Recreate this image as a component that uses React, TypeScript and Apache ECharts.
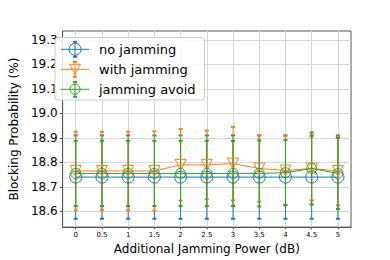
import React, { useEffect, useRef } from "react";
import * as echarts from "echarts";

const xValues = [0, 0.5, 1, 1.5, 2, 2.5, 3, 3.5, 4, 4.5, 5];
const xTicks = [0, 0.5, 1, 1.5, 2, 2.5, 3, 3.5, 4, 4.5, 5];
const yTicks = [18.6, 18.7, 18.8, 18.9, 19.0, 19.1, 19.2, 19.3];

const noJamming = [18.74, 18.74, 18.74, 18.74, 18.74, 18.74, 18.74, 18.74, 18.74, 18.74, 18.74];
const noJammingErr = [0.17, 0.17, 0.17, 0.17, 0.17, 0.17, 0.17, 0.17, 0.17, 0.17, 0.17];

const withJamming = [18.765, 18.765, 18.765, 18.765, 18.79, 18.79, 18.795, 18.775, 18.767, 18.775, 18.765];
const withJammingErr = [0.16, 0.16, 0.16, 0.162, 0.146, 0.14, 0.15, 0.135, 0.14, 0.13, 0.14];

const jammingAvoid = [18.755, 18.755, 18.755, 18.755, 18.755, 18.755, 18.755, 18.755, 18.758, 18.775, 18.755];
const jammingAvoidErr = [0.133, 0.133, 0.133, 0.133, 0.133, 0.133, 0.133, 0.135, 0.133, 0.147, 0.145];

const seriesNames = ["no jamming", "with jamming", "jamming avoid"];
const colors = ["#1f77b4", "#ff7f0e", "#2ca02c"];

const FONT = "DejaVu Sans";

function errorSeries(values: number[], errs: number[], color: string) {
  return {
    type: "custom",
    silent: true,
    data: values.map((v, i) => [xValues[i], v, errs[i]]),
    encode: { x: 0, y: 1 },
    renderItem: (params: any, api: any) => {
      const x = api.value(0);
      const y = api.value(1);
      const e = api.value(2);
      const top = api.coord([x, y + e]);
      const bot = api.coord([x, y - e]);
      const cw = 2;
      return {
        type: "group",
        children: [
          { type: "line", shape: { x1: top[0], y1: top[1], x2: bot[0], y2: bot[1] }, style: { stroke: color, lineWidth: 1 } },
          { type: "line", shape: { x1: top[0] - cw, y1: top[1], x2: top[0] + cw, y2: top[1] }, style: { stroke: color, lineWidth: 2 } },
          { type: "line", shape: { x1: bot[0] - cw, y1: bot[1], x2: bot[0] + cw, y2: bot[1] }, style: { stroke: color, lineWidth: 2 } },
        ],
      };
    },
  };
}

function lineSeries(name: string, values: number[], color: string, symbol: string, size: number, rotate: number) {
  return {
    type: "line",
    name,
    data: values.map((v, i) => [xValues[i], v]),
    symbol,
    symbolSize: size,
    symbolRotate: rotate,
    showSymbol: true,
    silent: true,
    lineStyle: { color, width: 1 },
    itemStyle: { color: "rgba(0,0,0,0)", borderColor: color, borderWidth: 1 },
    emphasis: { disabled: true },
  };
}

function legendGraphics() {
  const boxX = 55, boxY = 37.5, boxW = 149.5, boxH = 62.5;
  const rows = [49.3, 69.3, 89.3];
  const children: any[] = [
    {
      type: "rect",
      z: 100,
      shape: { x: boxX, y: boxY, width: boxW, height: boxH, r: 3 },
      style: { fill: "rgba(255,255,255,0.85)", stroke: "#cccccc", lineWidth: 1 },
    },
  ];
  rows.forEach((ry, i) => {
    const c = colors[i];
    const cx = 75;
    children.push({ type: "line", z: 101, shape: { x1: 61, y1: ry, x2: 89, y2: ry }, style: { stroke: c, lineWidth: 1 } });
    children.push({ type: "line", z: 101, shape: { x1: cx, y1: ry - 7.5, x2: cx, y2: ry + 7.5 }, style: { stroke: c, lineWidth: 1 } });
    children.push({ type: "line", z: 101, shape: { x1: cx - 2, y1: ry - 7.5, x2: cx + 2, y2: ry - 7.5 }, style: { stroke: c, lineWidth: 2 } });
    children.push({ type: "line", z: 101, shape: { x1: cx - 2, y1: ry + 7.5, x2: cx + 2, y2: ry + 7.5 }, style: { stroke: c, lineWidth: 2 } });
    if (i === 1) {
      children.push({
        type: "polygon",
        z: 101,
        shape: { points: [[cx - 5.5, ry - 5], [cx + 5.5, ry - 5], [cx, ry + 5]] },
        style: { fill: "none", stroke: c, lineWidth: 1 },
      });
    } else {
      children.push({
        type: "circle",
        z: 101,
        shape: { cx, cy: ry, r: i === 0 ? 6 : 5 },
        style: { fill: "none", stroke: c, lineWidth: 1 },
      });
    }
    children.push({
      type: "text",
      z: 101,
      x: 99,
      y: ry,
      style: { text: seriesNames[i], fill: "#000", font: `13px '${FONT}'`, textVerticalAlign: "middle", textAlign: "left" },
    });
  });
  return [{ type: "group", z: 100, children }];
}

export default function App() {
  const ref = useRef<HTMLDivElement>(null);
  useEffect(() => {
    if (!ref.current) return;
    const chart = echarts.init(ref.current, undefined, { renderer: "svg" });
    chart.setOption({
      animation: false,
      backgroundColor: "#ffffff",
      textStyle: { fontFamily: FONT },
      grid: {
        left: 49,
        right: 39,
        top: 31,
        bottom: 29,
        show: true,
        borderColor: "#555",
        borderWidth: 1,
        backgroundColor: "transparent",
      },
      xAxis: {
        type: "value",
        min: -0.25,
        max: 5.25,
        name: "Additional Jamming Power (dB)",
        nameLocation: "middle",
        nameGap: 10,
        nameTextStyle: { fontSize: 12, color: "#000", fontFamily: FONT, verticalAlign: "top" },
        axisLine: { show: true, onZero: false, lineStyle: { color: "#555", width: 1 } },
        axisTick: { show: true, length: 2, customValues: xTicks, lineStyle: { color: "#555" } },
        axisLabel: {
          customValues: xTicks,
          fontSize: 7,
          color: "#000",
          margin: 4,
          fontFamily: FONT,
          formatter: (v: number) => String(Math.round(v * 10) / 10),
        },
        splitLine: { show: true, lineStyle: { color: "#d6d6d6", width: 1 } },
      },
      yAxis: {
        type: "value",
        min: 18.536,
        max: 19.336,
        name: "Blocking Probability (%)",
        nameLocation: "middle",
        nameGap: 32,
        nameTextStyle: { fontSize: 12, color: "#000", fontFamily: FONT },
        axisLine: { show: true, onZero: false, lineStyle: { color: "#555", width: 1 } },
        axisTick: { show: true, length: 3, customValues: yTicks, lineStyle: { color: "#555" } },
        axisLabel: {
          customValues: yTicks,
          fontSize: 12,
          color: "#000",
          margin: 5,
          fontFamily: FONT,
          formatter: (v: number) => v.toFixed(1),
        },
        splitLine: { show: true, lineStyle: { color: "#d6d6d6", width: 1 } },
      },
      series: [
        errorSeries(noJamming, noJammingErr, colors[0]),
        lineSeries(seriesNames[0], noJamming, colors[0], "circle", 12, 0),
        errorSeries(withJamming, withJammingErr, colors[1]),
        lineSeries(seriesNames[1], withJamming, colors[1], "triangle", 11, 180),
        errorSeries(jammingAvoid, jammingAvoidErr, colors[2]),
        lineSeries(seriesNames[2], jammingAvoid, colors[2], "circle", 10, 0),
      ],
      graphic: legendGraphics(),
    });
    return () => chart.dispose();
  }, []);
  return <div ref={ref} style={{ position: "absolute", left: 0, top: 0, width: 390, height: 260 }} />;
}
